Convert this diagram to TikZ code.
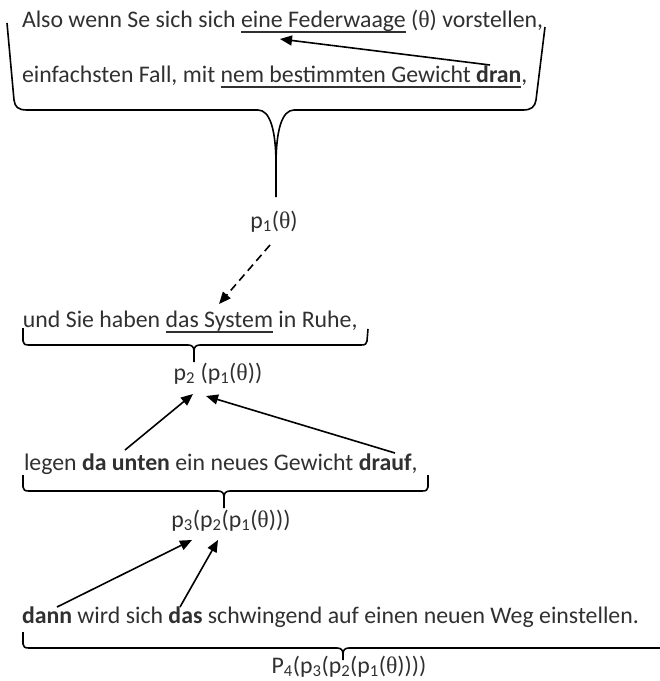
\documentclass[tikz,border=0pt]{standalone}
\usepackage{fontspec}
\setmainfont{Carlito}
\newfontfamily\thetafont{Liberation Serif}
\usetikzlibrary{arrows.meta}
\definecolor{txtgray}{RGB}{48,48,48}
\newcommand{\thta}{{\thetafont θ}}
\newsavebox\ulbox
\newcommand{\uln}[1]{\sbox\ulbox{#1}\rlap{\rule[-6pt]{\wd\ulbox}{1.6pt}}\usebox\ulbox}
\tikzset{
  txt/.style={inner sep=0pt, outer sep=0pt, text=txtgray, font=\fontsize{23.8}{28}\selectfont},
  bracepath/.style={draw=black, line width=1.6pt, line join=round},
  arr/.style={draw=black, line width=1.6pt, -{Triangle[length=12pt,width=10pt]}},
  darr/.style={arr, dash pattern=on 8pt off 5pt},
}
\begin{document}
\begin{tikzpicture}[x=1pt,y=-1pt]
\useasboundingbox (0,0) rectangle (660,681);
% text lines
\node[txt, anchor=base west] (l1) at (22,27) {Also wenn Se sich sich \uln{eine Federwaage} (\thta) vorstellen,};
\node[txt, anchor=base west] (l2) at (22,82) {einfachsten Fall, mit \uln{nem bestimmten Gewicht \textbf{dran}},};
\node[txt, anchor=base] (p1) at (274,228) {p\textsubscript{1}(\thta)};
\node[txt, anchor=base west] (l3) at (23,327) {und Sie haben \uln{das System} in Ruhe,};
\node[txt, anchor=base] (p2) at (218,380) {p\textsubscript{2} (p\textsubscript{1}(\thta))};
\node[txt, anchor=base west] (l4) at (24,470) {legen \textbf{da unten} ein neues Gewicht \textbf{drauf},};
\node[txt, anchor=base] (p3) at (231,527) {p\textsubscript{3}(p\textsubscript{2}(p\textsubscript{1}(\thta)))};
\node[txt, anchor=base west] (l5) at (22,623) {\textbf{dann} wird sich \textbf{das} schwingend auf einen neuen Weg einstellen.};
\node[txt, anchor=base] (p4) at (349,673) {P\textsubscript{4}(p\textsubscript{3}(p\textsubscript{2}(p\textsubscript{1}(\thta))))};
% braces
\path[bracepath] (7,23) -- (14,100) .. controls (15,107) and (18,110) .. (27,110)
  -- (258,110) .. controls (270,110) and (276,130) .. (276,165) -- (276,197);
\path[bracepath] (276,165) .. controls (276,130) and (282,110) .. (294,110)
  -- (523,110) .. controls (531,110) and (535,107) .. (536,100) -- (545,27);
\path[bracepath] (23,328) -- (23,341) .. controls (23,344) and (25,345) .. (29,345)
  -- (188,345) .. controls (192,345) and (194,347) .. (194,351) -- (194,362);
\path[bracepath] (194,351) .. controls (194,347) and (196,345) .. (200,345)
  -- (361,345) .. controls (365,345) and (367,344) .. (367,341) -- (368,329);
\path[bracepath] (23,475) -- (23,487) .. controls (23,490) and (25,491) .. (29,491)
  -- (218,491) .. controls (222,491) and (224,493) .. (224,497) -- (224,508);
\path[bracepath] (224,497) .. controls (224,493) and (226,491) .. (230,491)
  -- (422,491) .. controls (426,491) and (428,490) .. (428,487) -- (428,475);
\path[bracepath] (23,632) -- (23,644) .. controls (23,647) and (25,648) .. (29,648)
  -- (337,648) .. controls (341,648) and (343,650) .. (343,654) -- (343,660);
\path[bracepath] (343,654) .. controls (343,650) and (345,648) .. (349,648) -- (662,648);
% arrows
\coordinate (a1s) at (490,65);
\coordinate (a1e) at (280,39);
\draw[arr] (a1s) -- (a1e);
\coordinate (d1s) at (270,245);
\coordinate (d1e) at (219,304);
\draw[darr] (d1s) -- (d1e);
\coordinate (b1s) at (125,450);
\coordinate (b1e) at (193,394);
\coordinate (b2s) at (395,453);
\coordinate (b2e) at (206,396);
\draw[arr] (b1s) -- (b1e);
\draw[arr] (b2s) -- (b2e);
\coordinate (c1s) at (57,607);
\coordinate (c1e) at (192,540);
\coordinate (c2s) at (180,607);
\coordinate (c2e) at (218,540);
\draw[arr] (c1s) -- (c1e);
\draw[arr] (c2s) -- (c2e);
\end{tikzpicture}
\end{document}
